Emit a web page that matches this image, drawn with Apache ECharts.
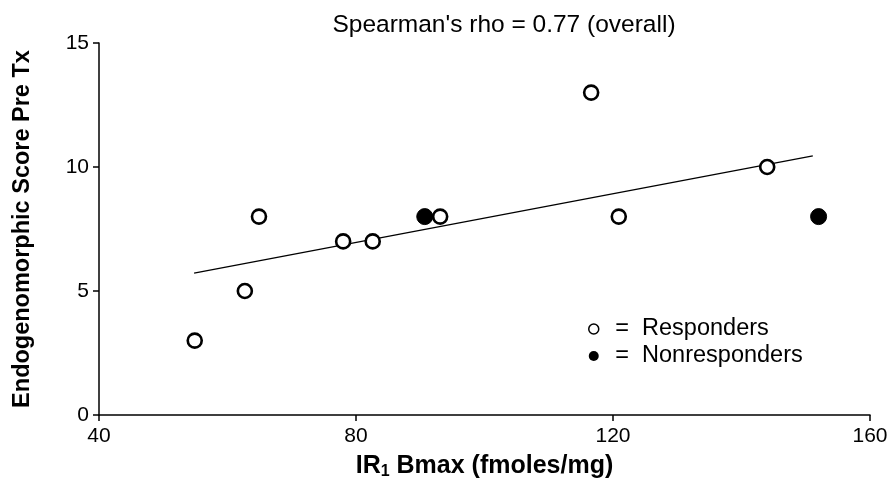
<!DOCTYPE html>
<html>
<head>
<meta charset="utf-8">
<script src="https://cdn.jsdelivr.net/npm/echarts@6/dist/echarts.min.js"></script>
<style>
  html, body { margin: 0; padding: 0; background: #fff; }
  #chart { width: 888px; height: 486px; }
</style>
</head>
<body>
<div id="chart"></div>
<script>
// values
const responders = [
  [54.9, 3], [62.7, 5], [64.9, 8], [78, 7], [82.6, 7],
  [93.1, 8], [116.6, 13], [120.9, 8], [144, 10]
];
const nonresponders = [
  [90.7, 8], [152, 8]
];
// regression line endpoints
const fitLine = [[54.8, 5.72], [151.1, 10.45]];
const xTicks = [40, 80, 120, 160];
const yTicks = [0, 5, 10, 15];

const font = 'Liberation Sans, Arial, sans-serif';
const chart = echarts.init(document.getElementById('chart'));

let option = {
  animation: false,
  backgroundColor: '#fff',
  title: {
    text: "Spearman's rho = 0.77 (overall)",
    left: 499,
    textAlign: 'center',
    top: 8,
    textStyle: { fontFamily: font, fontSize: 24.5, fontWeight: 'normal', color: '#000' }
  },
  legend: {
    orient: 'vertical',
    left: 583,
    top: 312,
    itemGap: 3,
    itemWidth: 20,
    itemHeight: 10,
    data: [
      { name: 'Responders', itemStyle: { color: '#fff', borderColor: '#000', borderWidth: 1.5 } },
      { name: 'Nonresponders', itemStyle: { color: '#000', borderColor: '#000', borderWidth: 0 } }
    ],
    formatter: name => ' =  ' + name,
    textStyle: { fontFamily: font, fontSize: 23.5, color: '#000' }
  },
  grid: { left: 99, right: 18, top: 43, bottom: 71, outerBoundsMode: 'none', containLabel: false },
  xAxis: {
    type: 'value',
    min: xTicks[0],
    max: xTicks[xTicks.length - 1],
    interval: 40,
    name: 'IR{sub|1} Bmax (fmoles/mg)',
    nameLocation: 'middle',
    nameGap: 37,
    nameTextStyle: {
      fontFamily: font, fontSize: 25, fontWeight: 'bold', color: '#000',
      rich: {
        sub: { fontFamily: font, fontSize: 16, fontWeight: 'bold', color: '#000', verticalAlign: 'bottom', padding: [12, 0, 0, 0] }
      }
    },
    axisLine: { lineStyle: { color: '#000', width: 1.5 } },
    axisTick: { length: 6, lineStyle: { color: '#000', width: 1.5 } },
    axisLabel: { fontFamily: font, fontSize: 21, color: '#000', margin: 11 },
    splitLine: { show: false }
  },
  yAxis: {
    type: 'value',
    min: yTicks[0],
    max: yTicks[yTicks.length - 1],
    interval: 5,
    name: 'Endogenomorphic Score Pre Tx',
    nameLocation: 'middle',
    nameGap: 64,
    nameTextStyle: { fontFamily: font, fontSize: 23.5, fontWeight: 'bold', color: '#000' },
    axisLine: { lineStyle: { color: '#000', width: 1.5 } },
    axisTick: { length: 6, lineStyle: { color: '#000', width: 1.5 } },
    axisLabel: { fontFamily: font, fontSize: 21, color: '#000', margin: 10 },
    splitLine: { show: false }
  },
  series: [
    {
      name: 'fit',
      type: 'line',
      data: fitLine,
      symbol: 'none',
      lineStyle: { color: '#000', width: 1.3 },
      z: 1
    },
    {
      name: 'Responders',
      type: 'scatter',
      data: responders,
      symbol: 'circle',
      symbolSize: 14,
      itemStyle: { color: '#fff', borderColor: '#000', borderWidth: 2.6, opacity: 1 },
      z: 3
    },
    {
      name: 'Nonresponders',
      type: 'scatter',
      data: nonresponders,
      symbol: 'circle',
      symbolSize: 16,
      itemStyle: { color: '#000', borderColor: '#000', borderWidth: 1, opacity: 1 },
      z: 2
    }
  ]
};
chart.setOption(option);
</script>
</body>
</html>
